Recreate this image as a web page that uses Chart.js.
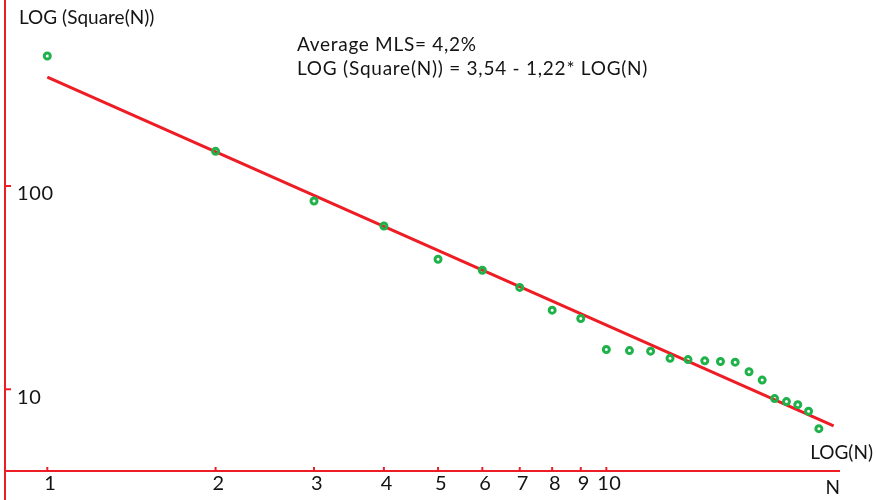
<!DOCTYPE html>
<html>
<head>
<meta charset="utf-8">
<title>LOG (Square(N))</title>
<script src="https://cdn.jsdelivr.net/npm/chart.js@4"></script>
<style>
  html, body { margin: 0; padding: 0; background: #fff; }
  canvas { display: block; }
</style>
</head>
<body>
<canvas id="chart" width="876" height="500"></canvas>
<script>
/* ================= DATA ================= */
const nValues = [1, 2, 3, 4, 5, 6, 7, 8, 9, 10, 11, 12, 13, 14, 15, 16, 17, 18, 19, 20, 21, 22, 23, 24];
const squareValues = [436, 148, 84.4, 63.6, 43.6, 38.5, 31.7, 24.5, 22.3, 15.7, 15.5, 15.4,
                      14.2, 14.0, 13.8, 13.7, 13.6, 12.2, 11.1, 9.0, 8.7, 8.4, 7.8, 6.4];

// regression line end points
const fitN = [1, 25.5];
const fitValues = [343, 6.6];

const xTicks = [1, 2, 3, 4, 5, 6, 7, 8, 9, 10];
const yTicks = [10, 100];

const yTitle = "LOG (Square(N))";
const xTitle = "LOG(N)";
const xName = "N";
const noteLines = ["Average MLS= 4,2%", "LOG (Square(N)) = 3,54 - 1,22* LOG(N)"];

/* ================= STYLE ================= */
const RED = "#ee1c24";
const GREEN = "#1fb24a";
const TEXT = "#141414";
const FONT = "19px Lato";

/* ---------- axes plugin: lines, inward ticks, labels ---------- */
const axesPlugin = {
  id: "axes",
  beforeDatasetsDraw(chart) {
    const { ctx } = chart;
    const xs = chart.scales.x;
    const ys = chart.scales.y;
    const left = xs.left, bottom = ys.bottom;

    ctx.save();
    ctx.strokeStyle = RED;
    ctx.lineWidth = 2;

    // y axis runs full height
    ctx.beginPath();
    ctx.moveTo(left, 0);
    ctx.lineTo(left, chart.height);
    ctx.stroke();

    // x axis
    ctx.beginPath();
    ctx.moveTo(left, bottom);
    ctx.lineTo(xs.right, bottom);
    ctx.stroke();

    ctx.fillStyle = TEXT;
    ctx.font = "20px Lato";
    ctx.letterSpacing = "0.6px";

    // x ticks
    ctx.textAlign = "center";
    ctx.textBaseline = "alphabetic";
    xTicks.forEach(v => {
      const px = xs.getPixelForValue(v);
      ctx.beginPath();
      ctx.moveTo(px, bottom);
      ctx.lineTo(px, bottom - 4);
      ctx.stroke();
      ctx.fillText(String(v), px + 3, bottom + 19);
    });

    // y ticks
    ctx.textAlign = "left";
    yTicks.forEach(v => {
      const py = ys.getPixelForValue(v);
      ctx.beginPath();
      ctx.moveTo(left, py);
      ctx.lineTo(left + 6, py);
      ctx.stroke();
      ctx.fillText(String(v), left + 12, py + 14.5);
    });

    // titles
    ctx.font = FONT;
    ctx.letterSpacing = "0px";
    ctx.fillText(yTitle, left + 14, 24);
    ctx.textAlign = "right";
    ctx.fillText(xTitle, chart.width - 3, bottom - 12);
    ctx.fillText(xName, xs.right, bottom + 23);

    // note
    ctx.textAlign = "left";
    ctx.letterSpacing = "0.7px";
    ctx.fillText(noteLines[0], 297, 51);
    ctx.letterSpacing = "0.75px";
    ctx.fillText(noteLines[1], 297, 75);

    ctx.restore();
  }
};

/* ================= CHART ================= */
new Chart(document.getElementById("chart"), {
  type: "scatter",
  data: {
    datasets: [
      {
        label: "Square(N)",
        data: nValues.map((n, i) => ({ x: n, y: squareValues[i] })),
        borderColor: GREEN,
        backgroundColor: "rgba(0,0,0,0)",
        pointRadius: 3,
        pointBorderWidth: 3,
        order: 0
      },
      {
        label: "Fit",
        data: fitN.map((n, i) => ({ x: n, y: fitValues[i] })),
        showLine: true,
        borderColor: RED,
        borderWidth: 3,
        pointRadius: 0,
        order: 1
      }
    ]
  },
  options: {
    responsive: false,
    animation: false,
    layout: { autoPadding: false, padding: { left: 5, top: 0, right: 36, bottom: 29 } },
    plugins: { legend: { display: false }, tooltip: { enabled: false } },
    scales: {
      x: { type: "logarithmic", display: false, min: 0.8401, max: 26.18 },
      y: { type: "logarithmic", display: false, min: 3.963, max: 822 }
    }
  },
  plugins: [axesPlugin]
});
</script>
</body>
</html>
